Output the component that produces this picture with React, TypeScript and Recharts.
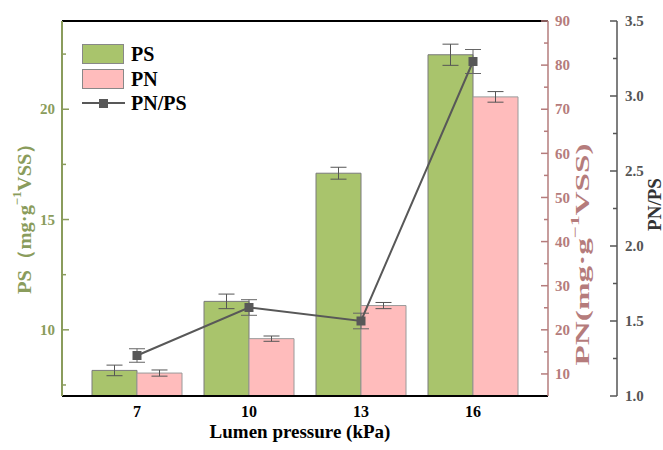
import React from 'react';
import { ComposedChart, Bar, Line, XAxis, YAxis, ErrorBar, ReferenceLine } from 'recharts';

const categories = ['7', '10', '13', '16'];
const psValues = [8.16, 11.29, 17.1, 22.47];
const psErrors = [0.24, 0.33, 0.27, 0.48];
const pnValues = [10.2, 18.0, 25.5, 72.8];
const pnErrors = [0.7, 0.6, 0.7, 1.2];
const ratioValues = [1.27, 1.59, 1.5, 3.23];
const ratioErrors = [0.045, 0.052, 0.052, 0.08];

const psTicks = [7.5, 10, 12.5, 15, 17.5, 20, 22.5];
const pnTicks = [10, 15, 20, 25, 30, 35, 40, 45, 50, 55, 60, 65, 70, 75, 80, 85, 90];
const ratioTicks = [1, 1.25, 1.5, 1.75, 2, 2.25, 2.5, 2.75, 3, 3.25, 3.5];

const data = categories.map((c, i) => ({
  cat: c,
  ps: psValues[i],
  psErr: psErrors[i],
  pn: pnValues[i],
  pnErr: pnErrors[i],
  ratio: ratioValues[i],
  ratioErr: ratioErrors[i],
}));

const FONT = '"Liberation Serif", "Times New Roman", serif';
const GREEN = '#a9c46c';
const GREEN_AXIS = '#8a9c5c';
const PINK = '#ffbcbc';
const PN_AXIS = '#b57c7c';
const RATIO_AXIS = '#555555';
const LINE = '#585858';

const textStyle = { fontFamily: FONT, fontWeight: 700 } as React.CSSProperties;

const makeTick = (side: 'left' | 'right', color: string, isMajor: (v: number) => boolean, fmt: (v: number) => string, margin: number) =>
  (props: any) => {
    const { x, y, payload } = props;
    const v = payload.value as number;
    const major = isMajor(v);
    const axisX = side === 'left' ? x + margin : x - margin;
    const len = major ? 7 : 4;
    const x2 = side === 'left' ? axisX + len : axisX - len;
    return (
      <g>
        <line x1={axisX} y1={y} x2={x2} y2={y} stroke={color} strokeWidth={1.5} />
        {major && (
          <text x={x} y={y} dy="0.35em" textAnchor={side === 'left' ? 'end' : 'start'} fill={color}
            style={{ ...textStyle, fontSize: 15 }}>{fmt(v)}</text>
        )}
      </g>
    );
  };

const PsTick = makeTick('left', GREEN_AXIS, (v) => Math.abs(v % 5) < 1e-6, (v) => String(v), 7);
const PnTick = makeTick('right', PN_AXIS, (v) => Math.abs(v % 10) < 1e-6, (v) => String(v), 7);
const RatioTick = makeTick('right', RATIO_AXIS, (v) => Math.abs((v * 2) % 1) < 1e-6, (v) => v.toFixed(1), 8);

const XTick = (props: any) => {
  const { x, y, payload } = props;
  return (
    <text x={x} y={y} dy="0.71em" textAnchor="middle" fill="#000" style={{ ...textStyle, fontSize: 16 }}>
      {payload.value}
    </text>
  );
};

const AxisTitle = (props: any) => {
  const { viewBox, kind } = props;
  if (!viewBox) return null;
  const { x, y, height } = viewBox;
  let cx = 0, cy = 0, color = '#000', len: number | undefined;
  let content: React.ReactNode = null;
  if (kind === 'ps') {
    cx = x + 24; cy = y + height / 2 + 5; color = GREEN_AXIS; len = 161;
    content = (<>PS（mg·g<tspan baselineShift="super" fontSize={12}>−1</tspan>VSS）</>);
  } else if (kind === 'pn') {
    cx = x + 34; cy = y + height / 2 + 46; color = PN_AXIS; len = 222;
    content = (<>PN(mg·g<tspan baselineShift="super" fontSize={12}>−1</tspan>VSS)</>);
  } else {
    cx = x + 37; cy = y + height / 2 - 4; color = '#333';
    content = 'PN/PS';
  }
  return (
    <text x={cx} y={cy} transform={`rotate(-90, ${cx}, ${cy})`} textAnchor="middle" dominantBaseline="central"
      fill={color} style={{ ...textStyle, fontSize: 19 }}
      {...(len ? { textLength: len, lengthAdjust: 'spacingAndGlyphs' } : {})}>{content}</text>
  );
};

const SquareDot = (props: any) => {
  const { cx, cy } = props;
  if (cx == null || cy == null) return null;
  return <rect x={cx - 4.5} y={cy - 4.5} width={9} height={9} fill={LINE} />;
};

const LegendBox = () => (
  <div style={{ position: 'absolute', left: 82, top: 42, fontFamily: FONT, fontWeight: 'bold', fontSize: 20, color: '#000' }}>
    {[{ name: 'PS', color: GREEN }, { name: 'PN', color: PINK }].map((e) => (
      <div key={e.name} style={{ display: 'flex', alignItems: 'center', height: 24.5 }}>
        <div style={{ width: 42, height: 20, background: e.color, border: '1px solid #888', boxSizing: 'border-box' }} />
        <span style={{ marginLeft: 7, lineHeight: '20px' }}>{e.name}</span>
      </div>
    ))}
    <div style={{ display: 'flex', alignItems: 'center', height: 24.5 }}>
      <svg width={43} height={12}>
        <line x1={0} y1={6} x2={43} y2={6} stroke={LINE} strokeWidth={2} />
        <rect x={17} y={2} width={9} height={9} fill={LINE} />
      </svg>
      <span style={{ marginLeft: 6, lineHeight: '20px' }}>PN/PS</span>
    </div>
  </div>
);

export default function App() {
  return (
    <div style={{ position: 'absolute', left: 0, top: 0, width: 663, height: 450, background: '#fff' }}>
      <ComposedChart width={663} height={450} data={data} margin={{ top: 21, right: 0, bottom: 0, left: 0 }}
        barGap={0} barSize={45}>
        <XAxis dataKey="cat" padding={{ left: 19, right: 19 }} height={54} tickLine={false}
          axisLine={{ stroke: '#000', strokeWidth: 2 }} tickMargin={4} tick={<XTick />}
          label={{ value: 'Lumen pressure (kPa)', position: 'insideBottom', offset: 12, dx: -5, fill: '#000', fontFamily: FONT, fontWeight: 'bold', fontSize: 19 }} />
        <YAxis yAxisId="ps" orientation="left" width={62} domain={[7, 24]} ticks={psTicks} type="number"
          allowDataOverflow tickLine={false} tickSize={0} tickMargin={7} interval={0}
          axisLine={{ stroke: GREEN_AXIS, strokeWidth: 2 }} tick={<PsTick />} label={<AxisTitle kind="ps" />} />
        <YAxis yAxisId="pn" orientation="right" width={69} domain={[5, 90]} ticks={pnTicks} type="number"
          allowDataOverflow tickLine={false} tickSize={0} tickMargin={7} interval={0}
          axisLine={{ stroke: PN_AXIS, strokeWidth: 1.5 }} tick={<PnTick />} label={<AxisTitle kind="pn" />} />
        <YAxis yAxisId="ratio" orientation="right" width={46} domain={[1, 3.5]} ticks={ratioTicks} type="number"
          allowDataOverflow tickLine={false} tickSize={0} tickMargin={8} interval={0}
          axisLine={{ stroke: RATIO_AXIS, strokeWidth: 1.5 }} tick={<RatioTick />} label={<AxisTitle kind="ratio" />} />
        <ReferenceLine yAxisId="ps" y={24} stroke="#000" strokeWidth={2} />
        <Bar yAxisId="ps" dataKey="ps" fill={GREEN} stroke="#7a7a7a" strokeWidth={1} isAnimationActive={false}>
          <ErrorBar dataKey="psErr" width={8} stroke="#555" strokeWidth={1} direction="y" />
        </Bar>
        <Bar yAxisId="pn" dataKey="pn" fill={PINK} stroke="#9a9a9a" strokeWidth={1} isAnimationActive={false}>
          <ErrorBar dataKey="pnErr" width={8} stroke="#555" strokeWidth={1} direction="y" />
        </Bar>
        <Line yAxisId="ratio" dataKey="ratio" stroke={LINE} strokeWidth={2} dot={<SquareDot />} activeDot={false}
          isAnimationActive={false}>
          <ErrorBar dataKey="ratioErr" width={8} stroke="#666" strokeWidth={1} direction="y" />
        </Line>
      </ComposedChart>
      <LegendBox />
    </div>
  );
}
